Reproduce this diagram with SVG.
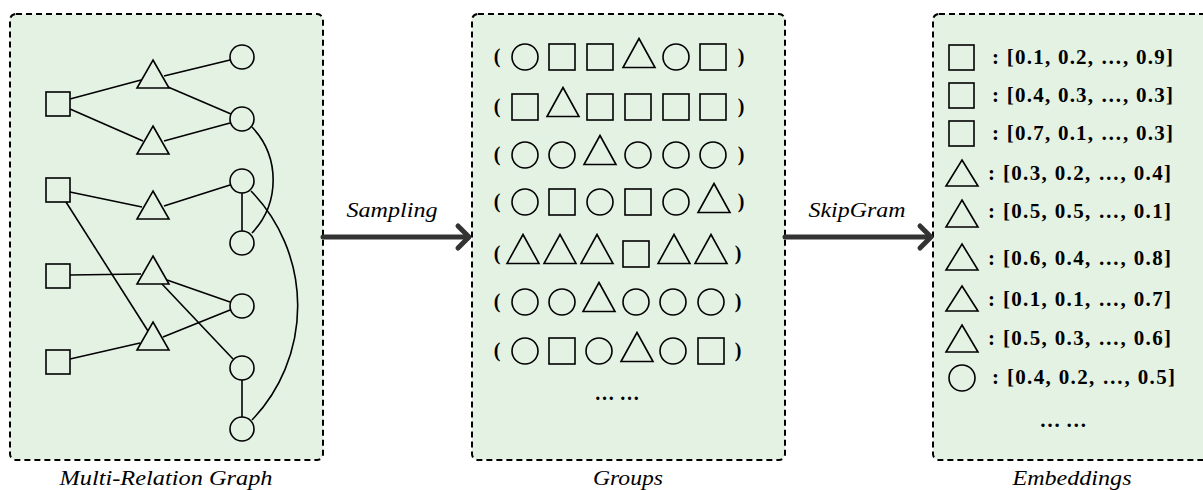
<svg xmlns="http://www.w3.org/2000/svg" width="1203" height="490" viewBox="0 0 1203 490">
  <style>
    .panel { fill: #e4f2e4; stroke: #000; stroke-width: 2; stroke-dasharray: 6 4; }
    .sh { fill: none; stroke: #000; stroke-width: 1.6; }
    .edge { fill: none; stroke: #000; stroke-width: 1.6; }
    .arrow { fill: none; stroke: #333; stroke-width: 5; stroke-linecap: round; stroke-linejoin: round; }
    .lbl { font-family: "Liberation Serif", "Times New Roman", serif; font-style: italic; font-size: 21px; fill: #000; }
    .par { font-family: "Liberation Serif", "Times New Roman", serif; font-weight: bold; font-size: 20px; fill: #000; }
    .vec { font-family: "Liberation Serif", "Times New Roman", serif; font-weight: bold; font-size: 21px; fill: #000; }
  </style>
  <defs>
    <circle id="c" r="12" class="sh"/>
    <rect id="s" x="-12" y="-12" width="24" height="24" class="sh"/>
    <polygon id="t" points="0,-14 16,14 -16,14" class="sh"/>
    <circle id="mc" r="13" class="sh"/>
    <rect id="ms" x="-13" y="-13" width="26" height="26" class="sh"/>
    <polygon id="mt" points="0,-14.5 16,14.5 -16,14.5" class="sh"/>
  </defs>

  <!-- Panels -->
  <g id="panel-graph">
    <rect class="panel" x="10" y="14" width="313" height="446" rx="6"/>
    <text class="lbl" x="166" y="485" text-anchor="middle" textLength="213" lengthAdjust="spacingAndGlyphs">Multi-Relation Graph</text>
  </g>
  <g id="panel-groups">
    <rect class="panel" x="472" y="14" width="313" height="446" rx="6"/>
    <text class="lbl" x="628" y="485" text-anchor="middle" textLength="70" lengthAdjust="spacingAndGlyphs">Groups</text>
  </g>
  <g id="panel-embeddings">
    <rect class="panel" x="933" y="14" width="313" height="446" rx="6"/>
    <text class="lbl" x="1072" y="485" text-anchor="middle" textLength="119" lengthAdjust="spacingAndGlyphs">Embeddings</text>
  </g>

  <!-- Graph connectors -->
  <g id="graph-edges">
    <line class="edge" x1="70" y1="99" x2="141" y2="80"/>
    <line class="edge" x1="164" y1="76" x2="230" y2="60"/>
    <line class="edge" x1="168" y1="87" x2="231" y2="114"/>
    <line class="edge" x1="70" y1="109" x2="143" y2="141"/>
    <line class="edge" x1="164" y1="141" x2="230" y2="123"/>
    <line class="edge" x1="70" y1="192" x2="142" y2="207"/>
    <line class="edge" x1="164" y1="206" x2="230" y2="185"/>
    <line class="edge" x1="242" y1="193" x2="242" y2="231"/>
    <path class="edge" d="M252,127 A77,77 0 0 1 252,233"/>
    <path class="edge" d="M251,191 A165,165 0 0 1 252,420"/>
    <line class="edge" x1="66" y1="202" x2="148" y2="331"/>
    <line class="edge" x1="70" y1="275" x2="141" y2="274"/>
    <line class="edge" x1="167" y1="280" x2="230" y2="302"/>
    <line class="edge" x1="162" y1="284" x2="233" y2="359"/>
    <line class="edge" x1="70" y1="359" x2="140" y2="343"/>
    <line class="edge" x1="163" y1="337" x2="230" y2="310"/>
    <line class="edge" x1="242" y1="380" x2="242" y2="417"/>
  </g>

  <!-- Graph nodes -->
  <g id="graph-nodes">
    <g id="sq1"><use href="#s" x="58" y="104"/></g>
    <g id="sq2"><use href="#s" x="58" y="190"/></g>
    <g id="sq3"><use href="#s" x="58" y="276"/></g>
    <g id="sq4"><use href="#s" x="58" y="362"/></g>
    <g id="tr1"><use href="#t" x="153" y="74"/></g>
    <g id="tr2"><use href="#t" x="153" y="140"/></g>
    <g id="tr3"><use href="#t" x="153" y="205"/></g>
    <g id="tr4"><use href="#t" x="153" y="270"/></g>
    <g id="tr5"><use href="#t" x="153" y="336"/></g>
    <g id="ci1"><use href="#c" x="242" y="57"/></g>
    <g id="ci2"><use href="#c" x="242" y="119"/></g>
    <g id="ci3"><use href="#c" x="242" y="181"/></g>
    <g id="ci4"><use href="#c" x="242" y="243"/></g>
    <g id="ci5"><use href="#c" x="242" y="306"/></g>
    <g id="ci6"><use href="#c" x="242" y="368"/></g>
    <g id="ci7"><use href="#c" x="242" y="429"/></g>
  </g>

  <!-- Main arrows -->
  <g id="connectors">
    <line class="arrow" x1="323" y1="237" x2="468" y2="237"/>
    <polyline class="arrow" points="458,226 469,237 458,248"/>
    <text class="lbl" x="392" y="217" text-anchor="middle" textLength="91" lengthAdjust="spacingAndGlyphs">Sampling</text>
    <line class="arrow" x1="785" y1="237" x2="930" y2="237"/>
    <polyline class="arrow" points="920,226 931,237 920,248"/>
    <text class="lbl" x="857" y="217" text-anchor="middle" textLength="97" lengthAdjust="spacingAndGlyphs">SkipGram</text>
  </g>

  <!-- Groups -->
  <g id="groups">
    <g id="row1">
      <text class="par" x="497" y="63" text-anchor="middle">(</text>
      <use href="#mc" x="525" y="57"/><use href="#ms" x="562" y="57"/><use href="#ms" x="600" y="57"/>
      <use href="#mt" x="639" y="53"/><use href="#mc" x="676" y="57"/><use href="#ms" x="713" y="57"/>
      <text class="par" x="741" y="63" text-anchor="middle">)</text>
    </g>
    <g id="row2">
      <text class="par" x="497" y="113" text-anchor="middle">(</text>
      <use href="#ms" x="525" y="107"/><use href="#mt" x="563" y="102"/><use href="#ms" x="600" y="107"/>
      <use href="#ms" x="638" y="107"/><use href="#ms" x="676" y="107"/><use href="#ms" x="713" y="107"/>
      <text class="par" x="741" y="113" text-anchor="middle">)</text>
    </g>
    <g id="row3">
      <text class="par" x="497" y="161" text-anchor="middle">(</text>
      <use href="#mc" x="525" y="155"/><use href="#mc" x="562" y="155"/><use href="#mt" x="600" y="150"/>
      <use href="#mc" x="638" y="155"/><use href="#mc" x="676" y="155"/><use href="#mc" x="713" y="155"/>
      <text class="par" x="741" y="161" text-anchor="middle">)</text>
    </g>
    <g id="row4">
      <text class="par" x="497" y="208" text-anchor="middle">(</text>
      <use href="#mc" x="525" y="202"/><use href="#ms" x="562" y="202"/><use href="#mc" x="600" y="202"/>
      <use href="#ms" x="638" y="202"/><use href="#mc" x="676" y="202"/><use href="#mt" x="714" y="198"/>
      <text class="par" x="741" y="208" text-anchor="middle">)</text>
    </g>
    <g id="row5">
      <text class="par" x="497" y="260" text-anchor="middle">(</text>
      <use href="#mt" x="523" y="249"/><use href="#mt" x="560" y="249"/><use href="#mt" x="597" y="249"/>
      <use href="#ms" x="636" y="254"/><use href="#mt" x="674" y="249"/><use href="#mt" x="711" y="249"/>
      <text class="par" x="738" y="260" text-anchor="middle">)</text>
    </g>
    <g id="row6">
      <text class="par" x="497" y="308" text-anchor="middle">(</text>
      <use href="#mc" x="525" y="302"/><use href="#mc" x="562" y="302"/><use href="#mt" x="599" y="297"/>
      <use href="#mc" x="636" y="302"/><use href="#mc" x="673" y="302"/><use href="#mc" x="711" y="302"/>
      <text class="par" x="738" y="308" text-anchor="middle">)</text>
    </g>
    <g id="row7">
      <text class="par" x="497" y="357" text-anchor="middle">(</text>
      <use href="#mc" x="525" y="351"/><use href="#ms" x="562" y="351"/><use href="#mc" x="599" y="351"/>
      <use href="#mt" x="637" y="347"/><use href="#mc" x="673" y="351"/><use href="#ms" x="711" y="351"/>
      <text class="par" x="738" y="357" text-anchor="middle">)</text>
    </g>
    <text class="par" x="617" y="400" text-anchor="middle">… …</text>
  </g>

  <!-- Embeddings -->
  <g id="embeddings">
    <g id="emb1"><rect class="sh" x="949" y="45" width="25" height="25"/><text class="vec" x="992" y="64" textLength="181" lengthAdjust="spacing">: [0.1, 0.2, …, 0.9]</text></g>
    <g id="emb2"><rect class="sh" x="949" y="83" width="25" height="25"/><text class="vec" x="992" y="102" textLength="181" lengthAdjust="spacing">: [0.4, 0.3, …, 0.3]</text></g>
    <g id="emb3"><rect class="sh" x="949" y="121" width="25" height="25"/><text class="vec" x="992" y="140" textLength="181" lengthAdjust="spacing">: [0.7, 0.1, …, 0.3]</text></g>
    <g id="emb4"><polygon class="sh" points="962,160 978,186 946,186"/><text class="vec" x="988" y="180" textLength="183" lengthAdjust="spacing">: [0.3, 0.2, …, 0.4]</text></g>
    <g id="emb5"><polygon class="sh" points="962,200 978,227 946,227"/><text class="vec" x="988" y="218" textLength="183" lengthAdjust="spacing">: [0.5, 0.5, …, 0.1]</text></g>
    <g id="emb6"><polygon class="sh" points="962,244 978,270 946,270"/><text class="vec" x="988" y="265" textLength="183" lengthAdjust="spacing">: [0.6, 0.4, …, 0.8]</text></g>
    <g id="emb7"><polygon class="sh" points="962,286 978,311 946,311"/><text class="vec" x="988" y="306" textLength="183" lengthAdjust="spacing">: [0.1, 0.1, …, 0.7]</text></g>
    <g id="emb8"><polygon class="sh" points="962,325 978,352 946,352"/><text class="vec" x="988" y="345" textLength="183" lengthAdjust="spacing">: [0.5, 0.3, …, 0.6]</text></g>
    <g id="emb9"><circle class="sh" cx="962" cy="378" r="13"/><text class="vec" x="992" y="384" textLength="183" lengthAdjust="spacing">: [0.4, 0.2, …, 0.5]</text></g>
    <text class="vec" x="1063" y="427" text-anchor="middle">… …</text>
  </g>
</svg>
